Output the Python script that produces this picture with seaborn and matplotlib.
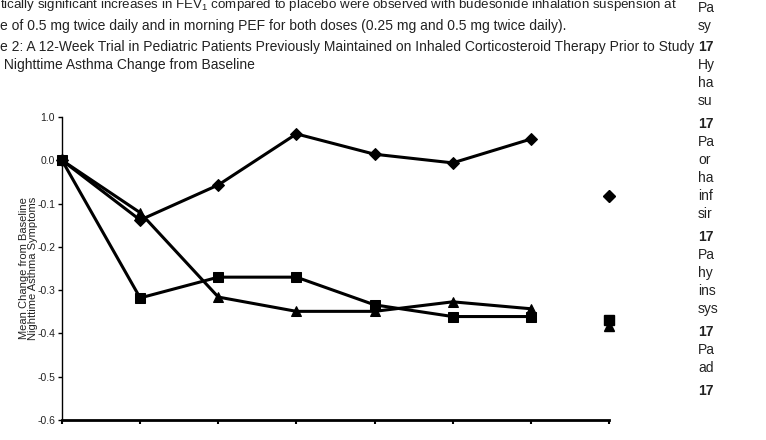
import pandas as pd
import seaborn as sns
import matplotlib.pyplot as plt

# visit index (baseline, weeks ..., endpoint)
visits = [0, 1, 2, 3, 4, 5, 6]
endpoint_visit = 7

# mean change from baseline
diamond_vals = [0.0, -0.138, -0.057, 0.061, 0.014, -0.006, 0.049]
triangle_vals = [0.0, -0.121, -0.316, -0.349, -0.349, -0.327, -0.343]
square_vals = [0.0, -0.318, -0.270, -0.270, -0.334, -0.361, -0.361]
endpoint_vals = {"diamond": -0.082, "triangle": -0.383, "square": -0.369}

ytick_pos = [0.1, 0.0, -0.1, -0.2, -0.3, -0.4, -0.5, -0.6]
ytick_labels = ["1.0", "0.0", "-0.1", "-0.2", "-0.3", "-0.4", "-0.5", "-0.6"]

left_lines = [
    "tically significant increases in FEV$_1$ compared to placebo were observed with budesonide inhalation suspension at",
    "e of 0.5 mg twice daily and in morning PEF for both doses (0.25 mg and 0.5 mg twice daily).",
    "e 2: A 12-Week Trial in Pediatric Patients Previously Maintained on Inhaled Corticosteroid Therapy Prior to Study",
    " Nighttime Asthma Change from Baseline",
]
left_y = [5, 26, 47, 65]
left_size = [9.6, 10, 10, 10]
right_words = ["Pa", "sy", "17", "Hy", "ha", "su", "17", "Pa", "or", "ha", "inf", "sir",
               "17", "Pa", "hy", "ins", "sys", "17", "Pa", "ad", "17"]
right_y = [8, 26, 47, 65, 83, 101, 124, 142, 160, 178, 196, 214,
           237, 255, 273, 291, 309, 332, 350, 368, 391]


def main():
    sns.set_style("white")
    plt.rcParams['font.family'] = ['Liberation Sans', 'DejaVu Sans']
    plt.rcParams['mathtext.fontset'] = 'custom'
    plt.rcParams['mathtext.rm'] = 'Liberation Sans'
    plt.rcParams['mathtext.it'] = 'Liberation Sans:italic'

    W, H = 766, 440
    fig = plt.figure(figsize=(W / 100, H / 100), dpi=100)
    ax = fig.add_axes([62 / W, 1 - 420 / H, (609 - 62) / W, (420 - 117) / H])

    df = pd.concat([
        pd.DataFrame({"visit": visits, "change": diamond_vals, "grp": "diamond"}),
        pd.DataFrame({"visit": visits, "change": triangle_vals, "grp": "triangle"}),
        pd.DataFrame({"visit": visits, "change": square_vals, "grp": "square"}),
    ])
    markers = {"diamond": "D", "triangle": "^", "square": "s"}
    sizes = {"diamond": 6, "triangle": 7, "square": 7}
    for grp, sub in df.groupby("grp", sort=False):
        sns.lineplot(data=sub, x="visit", y="change", ax=ax, color="black",
                     linewidth=2.2, marker=markers[grp], markersize=sizes[grp],
                     markeredgecolor="black", markerfacecolor="black", clip_on=False)
        ax.plot([endpoint_visit], [endpoint_vals[grp]], marker=markers[grp],
                markersize=sizes[grp], color="black", linestyle="none", clip_on=False)

    ax.set_xlim(0, 7)
    ax.set_ylim(-0.6, 0.1)
    ax.set_xticks(range(0, 8))
    ax.set_xticklabels([])
    ax.set_yticks(ytick_pos)
    ax.set_yticklabels(ytick_labels, fontsize=7.5)
    ax.set_xlabel("")
    ax.set_ylabel("Mean Change from Baseline\nNighttime Asthma Symptoms", fontsize=8,
                  linespacing=0.95, color='#222222')
    ax.yaxis.set_label_coords(-0.043, 0.5)
    sns.despine(ax=ax)
    ax.spines['left'].set_linewidth(1.0)
    ax.spines['bottom'].set_linewidth(2.0)
    ax.spines['left'].set_color('black')
    ax.spines['bottom'].set_color('black')
    ax.tick_params(axis='y', direction='out', length=3, width=1, color='black', pad=2,
                   left=True, labelcolor='#222222')
    ax.tick_params(axis='x', direction='out', length=3, width=1.5, color='black', bottom=True)

    for txt, y, fs in zip(left_lines, left_y, left_size):
        fig.text(0, 1 - y / H, txt, fontsize=fs, va='center', ha='left', color='#222222')
    for txt, y in zip(right_words, right_y):
        fig.text(698 / W, 1 - y / H, txt, fontsize=10, va='center', ha='left', color='#222222',
                 fontweight='bold' if txt == "17" else 'normal')

    fig.savefig("out.png", dpi=100)
    plt.close()


if __name__ == '__main__':
    main()
